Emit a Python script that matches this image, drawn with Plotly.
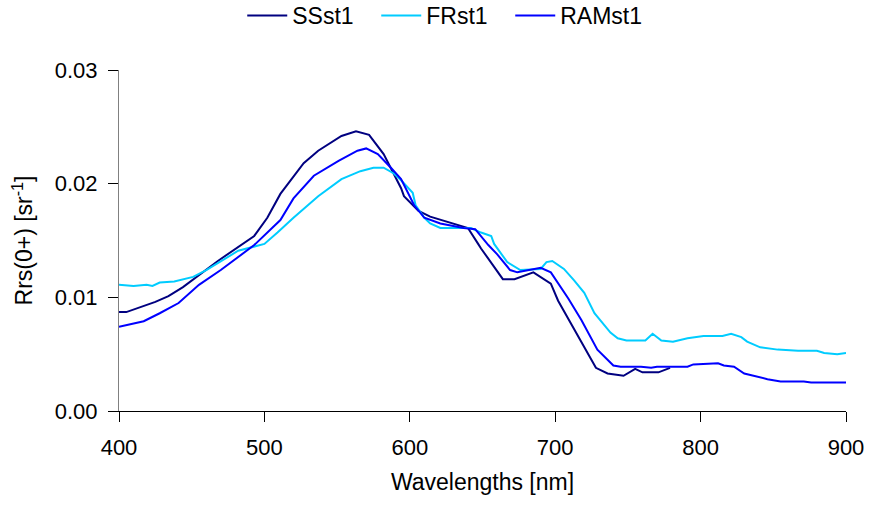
import plotly.graph_objects as go

ss_x = [400, 405, 425, 434, 444, 468, 493, 502, 511, 527, 537, 553, 563, 572, 582, 594, 596, 606, 614, 640, 647, 649, 664, 672, 685, 697, 702, 718, 728, 736, 747, 755, 760, 771, 779]
ss_y = [0.0087, 0.0087, 0.0096, 0.0101, 0.0109, 0.0132, 0.0154, 0.0170, 0.0191, 0.0218, 0.0229, 0.0242, 0.0246, 0.0243, 0.0226, 0.0196, 0.0189, 0.0176, 0.0171, 0.0161, 0.0147, 0.0143, 0.0116, 0.0116, 0.0122, 0.0112, 0.0097, 0.0060, 0.0038, 0.0033, 0.0031, 0.0037, 0.0034, 0.0034, 0.0038]

fr_x = [400, 410, 419, 423, 428, 438, 451, 460, 482, 500, 509, 520, 537, 553, 566, 575, 582, 589, 594, 602, 604, 610, 614, 621, 642, 649, 656, 658, 667, 676, 690, 694, 698, 706, 713, 720, 727, 733, 738, 743, 749, 762, 767, 773, 781, 791, 802, 815, 821, 828, 832, 841, 853, 867, 880, 885, 894, 900]
fr_y = [0.0111, 0.0110, 0.0111, 0.0110, 0.0113, 0.0114, 0.0118, 0.0124, 0.0141, 0.0147, 0.0157, 0.0170, 0.0189, 0.0204, 0.0211, 0.0214, 0.0214, 0.0209, 0.0203, 0.0192, 0.0181, 0.0170, 0.0165, 0.0161, 0.0161, 0.0157, 0.0154, 0.0147, 0.0131, 0.0124, 0.0125, 0.0131, 0.0132, 0.0125, 0.0115, 0.0104, 0.0086, 0.0077, 0.0069, 0.0064, 0.0062, 0.0062, 0.0068, 0.0062, 0.0061, 0.0064, 0.0066, 0.0066, 0.0068, 0.0065, 0.0061, 0.0056, 0.0054, 0.0053, 0.0053, 0.0051, 0.0050, 0.0051]

ram_x = [400, 417, 428, 441, 455, 470, 493, 511, 520, 534, 551, 564, 570, 578, 587, 594, 603, 610, 621, 637, 645, 654, 660, 669, 674, 690, 697, 704, 709, 718, 729, 740, 745, 759, 766, 770, 791, 795, 807, 812, 816, 823, 830, 839, 846, 855, 871, 876, 900]
ram_y = [0.0074, 0.0079, 0.0086, 0.0095, 0.0111, 0.0124, 0.0146, 0.0168, 0.0187, 0.0207, 0.0220, 0.0229, 0.0231, 0.0226, 0.0214, 0.0204, 0.0181, 0.0170, 0.0165, 0.0161, 0.0160, 0.0146, 0.0138, 0.0124, 0.0122, 0.0126, 0.0122, 0.0109, 0.0099, 0.0080, 0.0054, 0.0040, 0.0039, 0.0039, 0.0038, 0.0039, 0.0039, 0.0041, 0.0042, 0.0042, 0.0040, 0.0039, 0.0033, 0.0030, 0.0028, 0.0026, 0.0026, 0.0025, 0.0025]

fig = go.Figure()
fig.add_trace(go.Scatter(x=ss_x, y=ss_y, mode="lines", name="SSst1", line=dict(color="#000080", width=2)))
fig.add_trace(go.Scatter(x=fr_x, y=fr_y, mode="lines", name="FRst1", line=dict(color="#00CCFF", width=2)))
fig.add_trace(go.Scatter(x=ram_x, y=ram_y, mode="lines", name="RAMst1", line=dict(color="#0000FF", width=2)))

fam = "Liberation Sans, Arial, sans-serif"
tick_font = dict(family=fam, size=22, color="black")
title_font = dict(family=fam, size=23, color="black")
fig.update_layout(
    width=870, height=508,
    margin=dict(l=119, r=24, t=70, b=97, autoexpand=False),
    paper_bgcolor="white", plot_bgcolor="white",
    font=tick_font,
    showlegend=True,
    legend=dict(orientation="h", x=0.446, xanchor="center", y=1.16, yanchor="middle",
                font=title_font, itemwidth=40, entrywidth=79, bgcolor="rgba(0,0,0,0)"),
    xaxis=dict(range=[400, 900], tickvals=[400, 500, 600, 700, 800, 900], ticks="outside", ticklen=10,
               tickcolor="black", showline=True, linecolor="black", linewidth=1, showgrid=False,
               zeroline=False, tickfont=tick_font, ticklabelstandoff=7,
               title=dict(text="Wavelengths [nm]", font=title_font, standoff=14)),
    yaxis=dict(range=[0, 0.03], dtick=0.01, tickformat=".2f", ticks="outside", ticklen=10,
               tickcolor="black", showline=True, linecolor="#808080", linewidth=1, showgrid=False,
               zeroline=False, tickfont=tick_font, ticklabelstandoff=6,
               title=dict(text="Rrs(0+) [sr<sup>-1</sup>]", font=title_font, standoff=15)),
)
fig.write_html("out.html")
